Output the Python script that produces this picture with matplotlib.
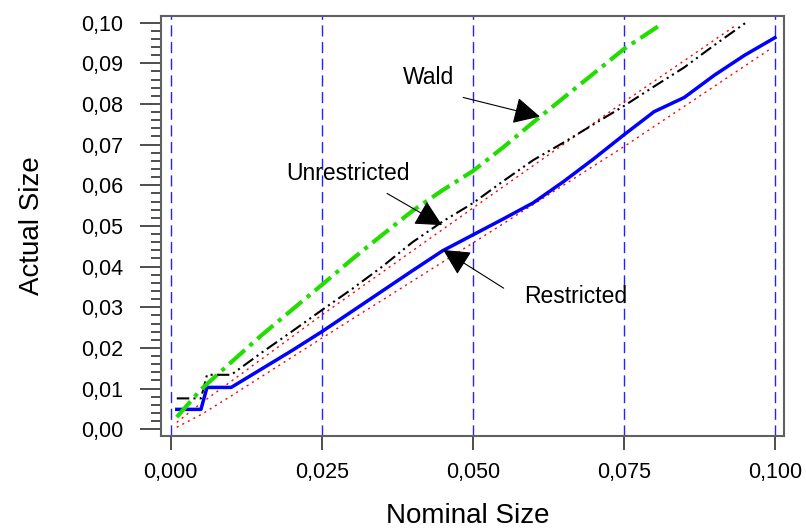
import matplotlib
matplotlib.use('Agg')
import matplotlib.pyplot as plt
from matplotlib.ticker import MultipleLocator, FuncFormatter

plt.rcParams['font.family'] = ['Liberation Sans', 'DejaVu Sans']

# nominal size grid (vertical reference lines)
ref_x = [0.0, 0.025, 0.05, 0.075, 0.1]

# Restricted test (blue, solid)
restricted_x = [0.001, 0.005, 0.006, 0.01, 0.015, 0.02, 0.025, 0.03, 0.035, 0.04,
                0.045, 0.05, 0.055, 0.06, 0.065, 0.07, 0.075, 0.08, 0.085, 0.09,
                0.095, 0.1]
restricted_y = [0.0049, 0.0049, 0.0103, 0.0103, 0.0148, 0.0193, 0.0240, 0.0290,
                0.0340, 0.0390, 0.0439, 0.0478, 0.0517, 0.0557, 0.0609, 0.0665,
                0.0724, 0.0781, 0.0816, 0.0871, 0.0920, 0.0963]

# Unrestricted test (black, dash-dot-dot)
unrestricted_x = [0.001, 0.005, 0.006, 0.01, 0.015, 0.02, 0.025, 0.03, 0.035, 0.04,
                  0.045, 0.05, 0.055, 0.06, 0.065, 0.07, 0.075, 0.08, 0.085, 0.09,
                  0.0951]
unrestricted_y = [0.0076, 0.0076, 0.0134, 0.0134, 0.0188, 0.0240, 0.0293, 0.0345,
                  0.0400, 0.0460, 0.0511, 0.0556, 0.0610, 0.0662, 0.0705, 0.0750,
                  0.0795, 0.0843, 0.0890, 0.0945, 0.0999]

# Wald test (green, dash-dot)
wald_x = [0.001, 0.005, 0.01, 0.015, 0.02, 0.025, 0.03, 0.035, 0.04, 0.045, 0.05,
          0.055, 0.06, 0.065, 0.07, 0.075, 0.0813]
wald_y = [0.0030, 0.0098, 0.0165, 0.0231, 0.0293, 0.0355, 0.0418, 0.0478, 0.0537,
          0.0588, 0.0635, 0.0693, 0.0755, 0.0815, 0.0875, 0.0935, 0.0997]

# confidence band around nominal size (red, dotted)
band_up_x = [0.001, 0.005, 0.01, 0.025, 0.05, 0.075, 0.0935]
band_up_y = [0.0017, 0.0064, 0.0118, 0.0281, 0.0544, 0.0805, 0.0993]
band_lo_x = [0.001, 0.005, 0.01, 0.025, 0.05, 0.075, 0.099]
band_lo_y = [0.0005, 0.0036, 0.0082, 0.0224, 0.0458, 0.0695, 0.0933]

fig = plt.figure(figsize=(8.06, 5.29), dpi=100)
ax = fig.add_axes([0.1994, 0.1764, 0.7733, 0.7939])

for xv in ref_x:
    ax.axvline(xv, color='#2222ff', lw=1.0, dashes=(8, 4))

ax.plot(band_up_x, band_up_y, color='red', lw=1.0, dashes=(1.5, 3))
ax.plot(band_lo_x, band_lo_y, color='red', lw=1.0, dashes=(1.5, 3))
ax.plot(restricted_x, restricted_y, color='#0000ff', lw=2.5)
ax.plot(unrestricted_x, unrestricted_y, color='black', lw=1.5,
        dashes=(6, 2, 1, 2, 1, 2))
ax.plot(wald_x, wald_y, color='#22dd00', lw=3.0, dashes=(5, 1.5, 1, 1.5))

# labels with arrows
arrow = dict(arrowstyle='-|>,head_length=0.55,head_width=0.28', mutation_scale=30,
             lw=0.8, color='black', shrinkA=0, shrinkB=0)
ax.annotate('', xy=(0.0611, 0.0769), xytext=(0.0484, 0.0816), arrowprops=arrow)
ax.annotate('', xy=(0.0449, 0.0502), xytext=(0.0358, 0.0580), arrowprops=arrow)
ax.annotate('', xy=(0.0451, 0.0441), xytext=(0.0551, 0.0347), arrowprops=arrow)
ax.text(0.0426, 0.0866, 'Wald', fontsize=16.5, ha='center', va='center')
ax.text(0.0293, 0.0630, 'Unrestricted', fontsize=16.5, ha='center', va='center')
ax.text(0.0671, 0.0326, 'Restricted', fontsize=16.5, ha='center', va='center')

ax.set_xlim(-0.00166, 0.1015)
ax.set_ylim(-0.00157, 0.1017)

ax.xaxis.set_major_locator(MultipleLocator(0.025))
ax.yaxis.set_major_locator(MultipleLocator(0.01))
ax.yaxis.set_minor_locator(MultipleLocator(0.002))
ax.xaxis.set_major_formatter(FuncFormatter(lambda v, p: f'{v:.3f}'.replace('.', ',')))
ax.yaxis.set_major_formatter(FuncFormatter(lambda v, p: f'{v:.2f}'.replace('.', ',')))

for s in ax.spines.values():
    s.set_color('#606060')
    s.set_linewidth(1.5)
ax.tick_params(axis='x', which='major', length=10, width=1.3, color='#404040',
               labelsize=15.5, pad=9)
ax.tick_params(axis='y', which='major', length=15, width=1.3, color='#404040',
               labelsize=15.5, pad=12)
ax.tick_params(axis='y', which='minor', length=7.5, width=1.3, color='#404040')

ax.set_xlabel('Nominal Size', fontsize=20)
ax.set_ylabel('Actual Size', fontsize=20)
ax.xaxis.set_label_coords(0.493, -0.16)
ax.yaxis.set_label_coords(-0.185, 0.5)

fig.savefig('out.png', dpi=100)
